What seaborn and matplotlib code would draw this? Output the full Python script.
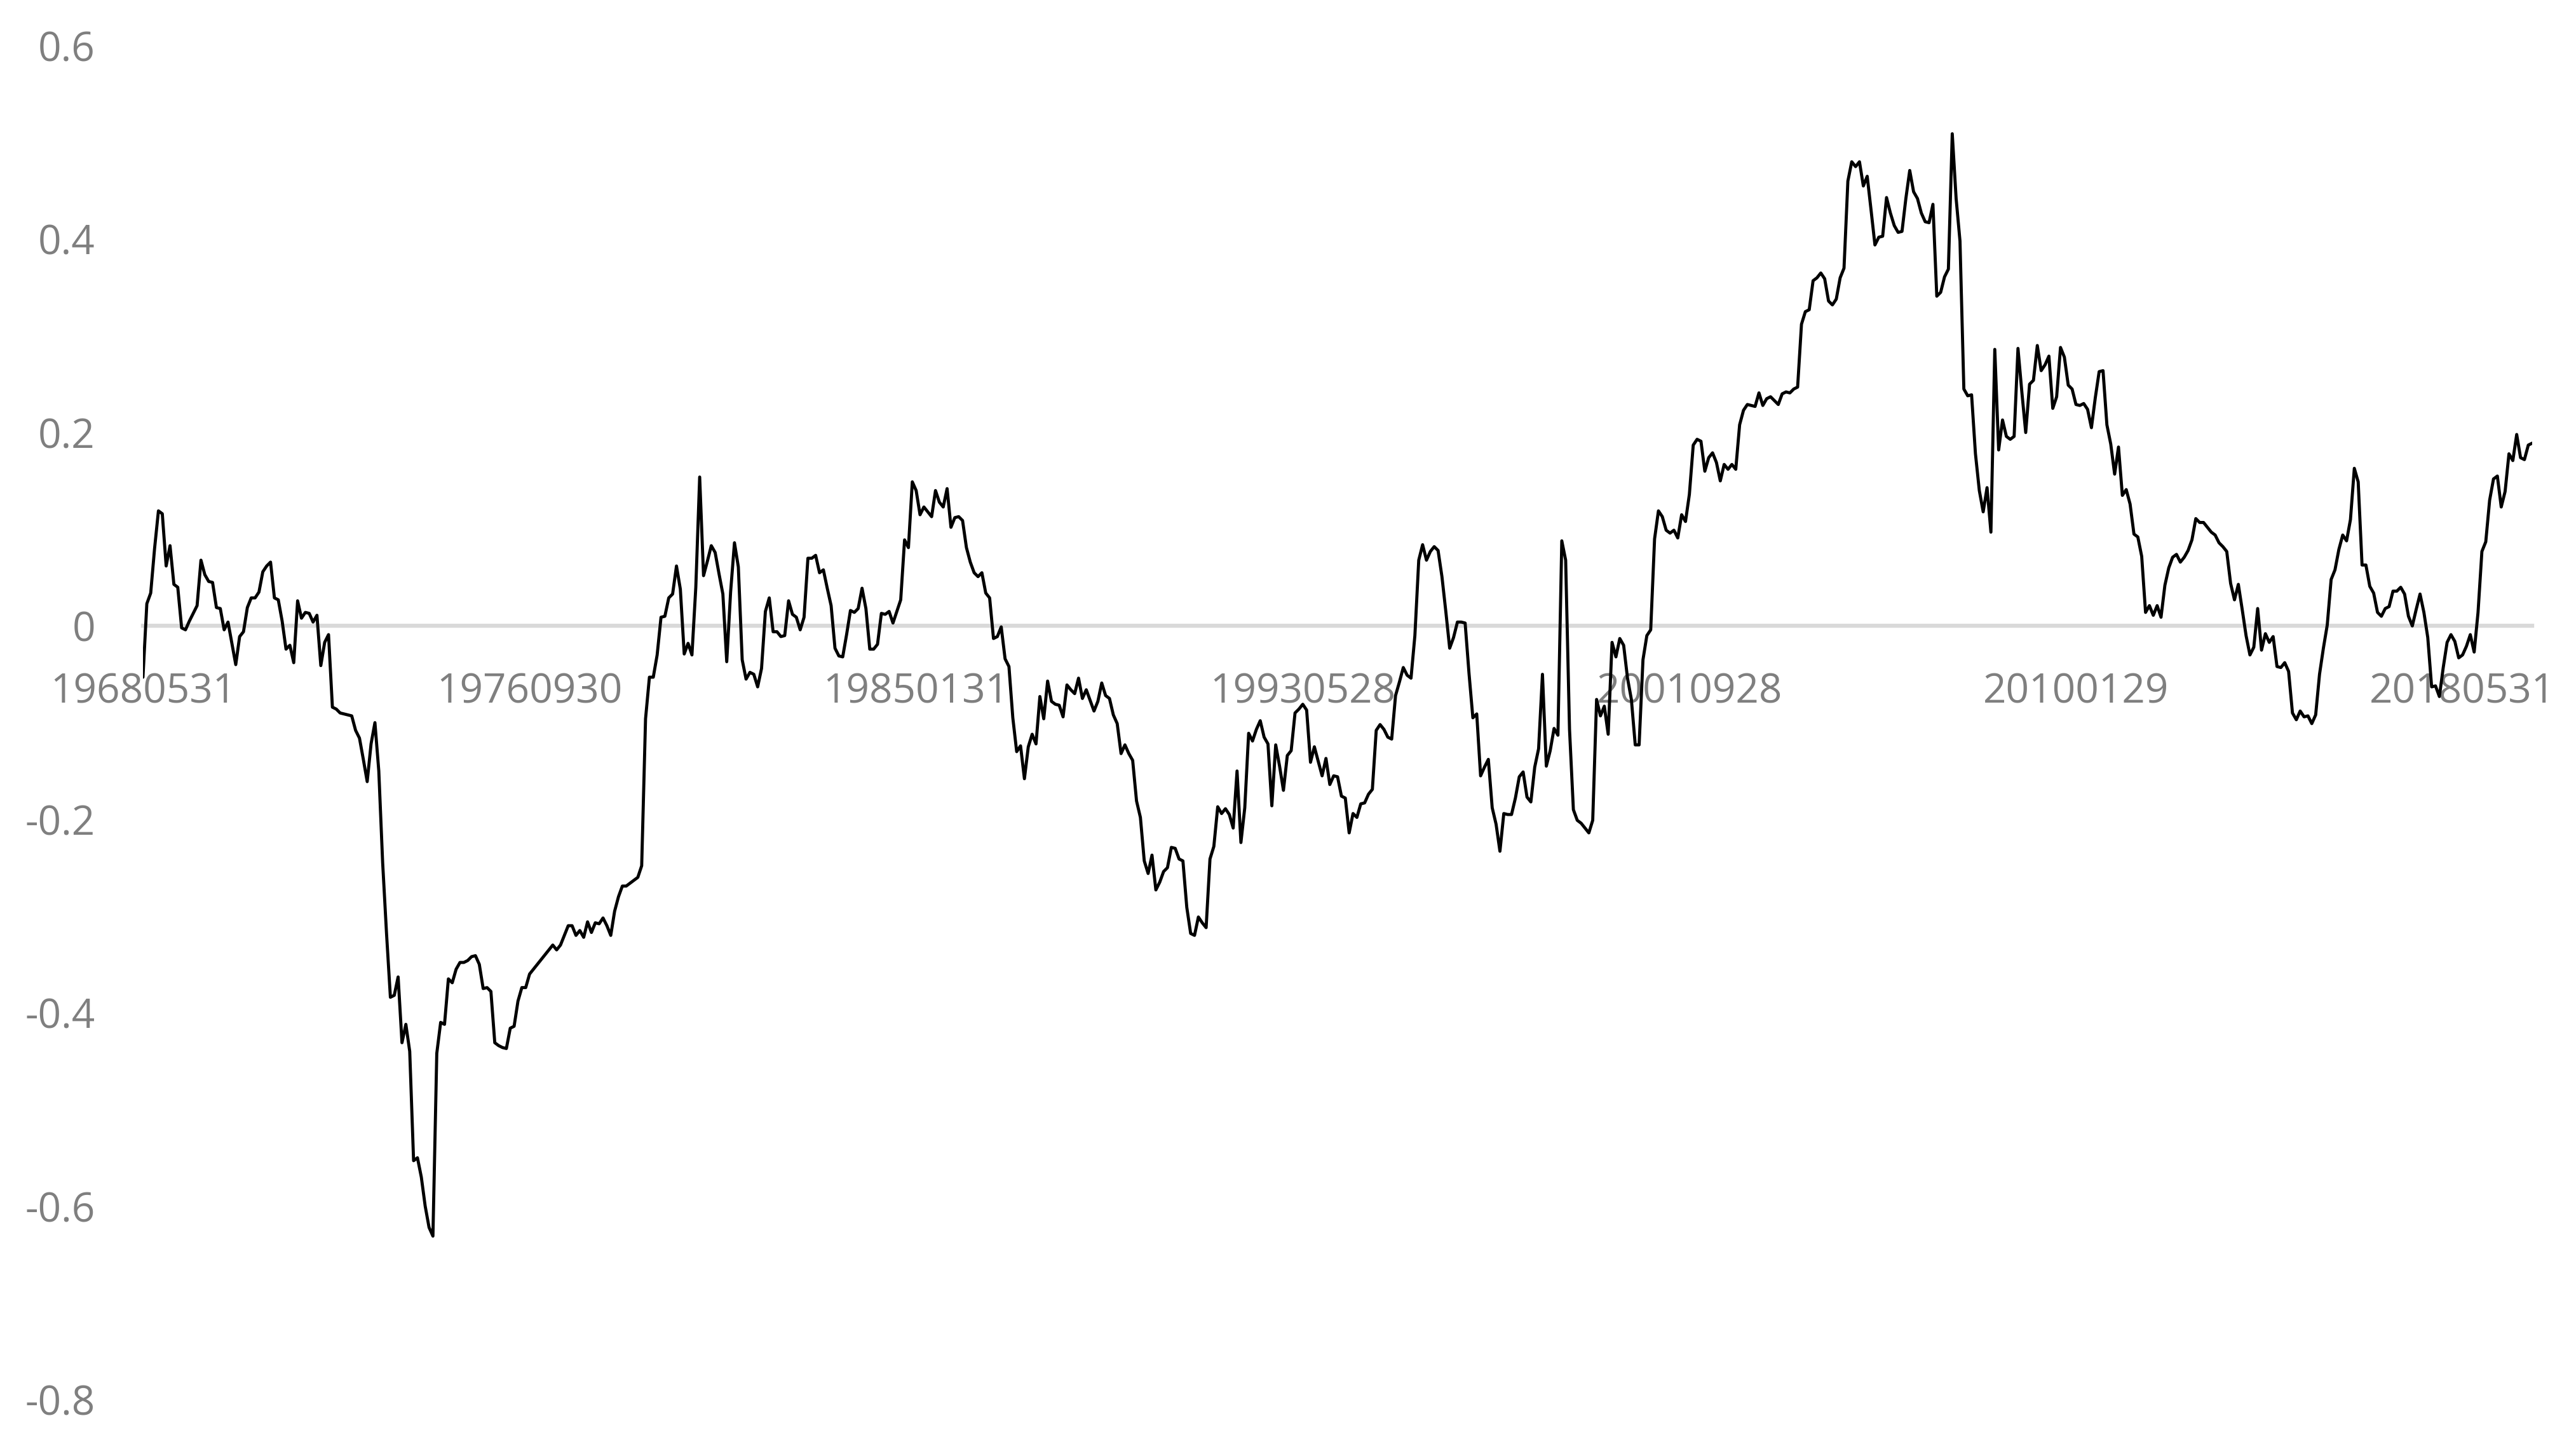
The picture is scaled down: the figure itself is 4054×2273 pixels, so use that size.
import numpy as np
import pandas as pd
import matplotlib
matplotlib.use("Agg")
import matplotlib.pyplot as plt
import seaborn as sns

# Monthly values, 1968-05 onward (one value per month-end)
vals_1968 = [-0.053, 0.023, 0.034, 0.080, 0.119, 0.116, 0.062, 0.083, 0.043, 0.040,
             -0.002, -0.004, 0.005, 0.013, 0.021, 0.068, 0.053, 0.046, 0.045, 0.019,
             0.018, -0.004, 0.004, -0.018, -0.040, -0.011, -0.006, 0.019, 0.029, 0.029,
             0.035, 0.056, 0.062, 0.066, 0.029, 0.027, 0.005, -0.024, -0.020, -0.038,
             0.026, 0.008, 0.014, 0.013, 0.004, 0.011, -0.041, -0.017, -0.009, -0.084,
             -0.086, -0.090, -0.091, -0.092, -0.093, -0.108, -0.116, -0.138, -0.161, -0.122,
             -0.100, -0.150, -0.245, -0.318, -0.384, -0.382, -0.363, -0.431, -0.412, -0.440,
             -0.553, -0.550, -0.570, -0.600, -0.622, -0.631, -0.442, -0.410, -0.412, -0.365,
             -0.369, -0.355, -0.348, -0.348, -0.346, -0.342, -0.341, -0.350, -0.375, -0.374,
             -0.378, -0.431, -0.434, -0.436, -0.437, -0.416, -0.414, -0.388, -0.374, -0.374]
vals_1976 = [-0.360, -0.355, -0.350, -0.345, -0.340, -0.335, -0.330, -0.335, -0.330, -0.320,
             -0.310, -0.310, -0.320, -0.315, -0.322, -0.306, -0.317, -0.307, -0.308, -0.302,
             -0.310, -0.320, -0.295, -0.280, -0.269, -0.269, -0.266, -0.263, -0.260, -0.248,
             -0.096, -0.053, -0.053, -0.030, 0.009, 0.010, 0.029, 0.033, 0.062, 0.038,
             -0.029, -0.018, -0.030, 0.040, 0.154, 0.052, 0.067, 0.083, 0.076, 0.054,
             0.033, -0.037, 0.035, 0.086, 0.061, -0.035, -0.055, -0.048, -0.050, -0.063,
             -0.044, 0.015, 0.029, -0.006, -0.006, -0.011, -0.010, 0.026, 0.012, 0.009,
             -0.004, 0.009, 0.070, 0.070, 0.073, 0.055, 0.058, 0.039, 0.021, -0.023,
             -0.031, -0.032, -0.009, 0.016, 0.014, 0.018, 0.039, 0.018, -0.024, -0.024,
             -0.019, 0.013, 0.012, 0.015, 0.003, 0.015, 0.027, 0.089, 0.081, 0.149]
vals_1985 = [0.140, 0.115, 0.123, 0.118, 0.113, 0.140, 0.128, 0.123, 0.142, 0.102,
             0.112, 0.113, 0.109, 0.081, 0.066, 0.055, 0.051, 0.055, 0.034, 0.029,
             -0.013, -0.011, -0.001, -0.034, -0.042, -0.095, -0.130, -0.124, -0.158, -0.125,
             -0.112, -0.122, -0.073, -0.096, -0.057, -0.078, -0.081, -0.082, -0.094, -0.061,
             -0.066, -0.070, -0.054, -0.075, -0.066, -0.077, -0.088, -0.078, -0.059, -0.072,
             -0.075, -0.092, -0.101, -0.132, -0.123, -0.132, -0.139, -0.181, -0.198, -0.243,
             -0.256, -0.237, -0.273, -0.265, -0.254, -0.250, -0.229, -0.230, -0.241, -0.243,
             -0.291, -0.318, -0.320, -0.301, -0.307, -0.312, -0.241, -0.228, -0.187, -0.194,
             -0.189, -0.195, -0.209, -0.150, -0.224, -0.188, -0.111, -0.119, -0.107, -0.098,
             -0.115, -0.122, -0.186, -0.123, -0.145, -0.170, -0.134, -0.129, -0.090, -0.086]
vals_1993 = [-0.081, -0.087, -0.141, -0.125, -0.140, -0.155, -0.137, -0.164, -0.155, -0.156,
             -0.176, -0.178, -0.214, -0.194, -0.198, -0.184, -0.183, -0.174, -0.169, -0.108,
             -0.102, -0.107, -0.115, -0.117, -0.072, -0.058, -0.043, -0.051, -0.054, -0.010,
             0.068, 0.084, 0.068, 0.077, 0.082, 0.078, 0.051, 0.015, -0.023, -0.012,
             0.004, 0.004, 0.003, -0.049, -0.095, -0.091, -0.155, -0.146, -0.138, -0.188,
             -0.205, -0.233, -0.194, -0.195, -0.195, -0.178, -0.156, -0.151, -0.177, -0.182,
             -0.146, -0.127, -0.050, -0.145, -0.129, -0.106, -0.113, 0.088, 0.068, -0.107,
             -0.190, -0.201, -0.204, -0.209, -0.214, -0.201, -0.076, -0.093, -0.083, -0.112,
             -0.017, -0.032, -0.013, -0.020, -0.054, -0.076, -0.123, -0.123, -0.035, -0.010,
             -0.004, 0.090, 0.119, 0.113, 0.099, 0.096, 0.099, 0.091, 0.115, 0.108]
vals_2001 = [0.136, 0.187, 0.193, 0.191, 0.160, 0.174, 0.179, 0.169, 0.150, 0.167,
             0.162, 0.167, 0.162, 0.208, 0.223, 0.229, 0.228, 0.227, 0.241, 0.228,
             0.235, 0.237, 0.233, 0.229, 0.240, 0.242, 0.241, 0.245, 0.247, 0.312,
             0.325, 0.327, 0.357, 0.360, 0.365, 0.359, 0.336, 0.332, 0.338, 0.360,
             0.370, 0.460, 0.480, 0.475, 0.480, 0.455, 0.465, 0.430, 0.394, 0.402,
             0.403, 0.443, 0.427, 0.414, 0.407, 0.408, 0.442, 0.471, 0.449, 0.442,
             0.427, 0.418, 0.417, 0.436, 0.341, 0.345, 0.361, 0.369, 0.509, 0.442,
             0.398, 0.245, 0.238, 0.239, 0.178, 0.140, 0.118, 0.143, 0.097, 0.286,
             0.182, 0.213, 0.196, 0.193, 0.196, 0.287, 0.242, 0.200, 0.250, 0.254,
             0.290, 0.264, 0.270, 0.279, 0.225, 0.237, 0.288, 0.278, 0.249, 0.245]
vals_2010 = [0.229, 0.228, 0.230, 0.224, 0.205, 0.236, 0.263, 0.264, 0.208, 0.188,
             0.157, 0.185, 0.135, 0.141, 0.126, 0.095, 0.092, 0.072, 0.014, 0.021,
             0.011, 0.021, 0.009, 0.042, 0.060, 0.071, 0.074, 0.066, 0.071, 0.078,
             0.089, 0.111, 0.107, 0.107, 0.102, 0.097, 0.094, 0.086, 0.082, 0.077,
             0.044, 0.027, 0.043, 0.017, -0.010, -0.030, -0.022, 0.018, -0.025, -0.008,
             -0.017, -0.011, -0.042, -0.043, -0.038, -0.047, -0.090, -0.097, -0.088, -0.094,
             -0.093, -0.101, -0.092, -0.050, -0.023, 0.001, 0.048, 0.058, 0.079, 0.094,
             0.088, 0.110, 0.163, 0.149, 0.063, 0.063, 0.041, 0.034, 0.014, 0.010,
             0.018, 0.020, 0.036, 0.036, 0.040, 0.033, 0.010, 0.000, 0.017, 0.033,
             0.014, -0.012, -0.063, -0.062, -0.073, -0.043, -0.017, -0.009, -0.016, -0.033]
vals_2018 = [-0.030, -0.021, -0.009, -0.027, 0.014, 0.077, 0.087, 0.130, 0.152, 0.155,
             0.123, 0.139, 0.178, 0.171, 0.198, 0.174, 0.172, 0.187, 0.189]

x_tick_labels = ["19680531", "19760930", "19850131", "19930528",
                 "20010928", "20100129", "20180531"]
y_ticks = [0.6, 0.4, 0.2, 0.0, -0.2, -0.4, -0.6, -0.8]
y_tick_labels = ["0.6", "0.4", "0.2", "0", "-0.2", "-0.4", "-0.6", "-0.8"]
label_interval = 100

values = np.array(vals_1968 + vals_1976 + vals_1985 + vals_1993 +
                  vals_2001 + vals_2010 + vals_2018)
idx = np.arange(len(values))
df = pd.DataFrame({"i": idx, "v": values})

sns.set_theme(style="white")
plt.rcParams["font.family"] = ["Open Sans", "DejaVu Sans"]

W, H = 4055, 2273
fig = plt.figure(figsize=(W / 100, H / 100), dpi=100)
fig.patch.set_facecolor("white")
ax = fig.add_axes([225 / W, 1 - 2203 / H, 3760 / W, 2131 / H])
ax.set_facecolor("white")

sns.lineplot(data=df, x="i", y="v", color="black", linewidth=3.5, ax=ax,
             zorder=3)

ax.set_xlim(0, len(values) - 1)
ax.set_ylim(-0.8, 0.6)

for s in ["top", "right", "left"]:
    ax.spines[s].set_visible(False)
ax.spines["bottom"].set_position(("data", 0))
ax.spines["bottom"].set_color("#D9D9D9")
ax.spines["bottom"].set_linewidth(4.6)
ax.spines["bottom"].set_zorder(1)

ax.set_xticks(idx[::label_interval])
ax.set_xticklabels(x_tick_labels)
ax.set_yticks(y_ticks)
ax.set_yticklabels(y_tick_labels)
ax.tick_params(axis="x", length=0, pad=52, labelsize=46, labelcolor="#7F7F7F")
ax.tick_params(axis="y", length=0, pad=54, labelsize=46, labelcolor="#7F7F7F")
for t in ax.get_yticklabels():
    t.set_horizontalalignment("right")
ax.set_xlabel("")
ax.set_ylabel("")
ax.grid(False)

fig.savefig("out.png", dpi=100, facecolor="white")
